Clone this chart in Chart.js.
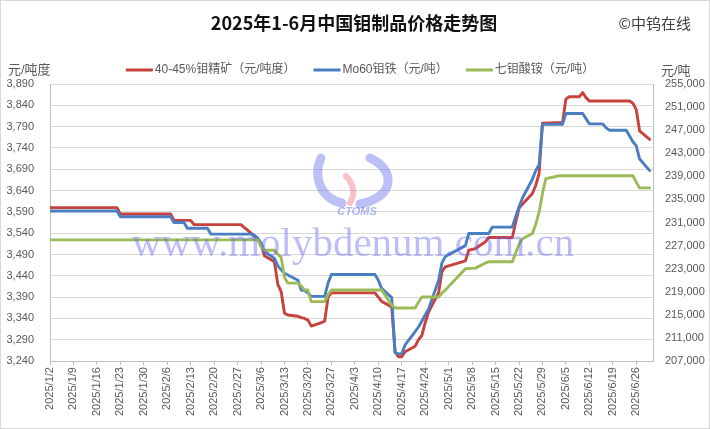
<!DOCTYPE html>
<html>
<head>
<meta charset="utf-8">
<script src="https://cdn.jsdelivr.net/npm/chart.js@4.4.1/dist/chart.umd.min.js"></script>
<style>
  html, body { margin: 0; padding: 0; background: #fff; }
</style>
</head>
<body>
<canvas id="price-chart" width="710" height="429"></canvas>
<script>
// dates are 2025 trading days (M/D)
const redDates = ['1/2','1/22','1/23','2/7','2/8','2/13','2/14','2/28','3/3','3/4','3/5','3/6','3/7','3/10','3/11','3/12','3/13','3/14','3/17','3/18','3/19','3/20','3/21','3/24','3/25','3/26','3/27','4/9','4/10','4/11','4/14','4/15','4/16','4/17','4/18','4/21','4/22','4/23','4/24','4/25','4/28','4/29','4/30','5/6','5/7','5/9','5/12','5/13','5/20','5/21','5/22','5/23','5/26','5/27','5/28','5/29','6/4','6/5','6/6','6/9','6/10','6/11','6/12','6/24','6/25','6/26','6/27','6/30'];
const redValues = [3600,3600,3585,3585,3570,3570,3560,3560,3540,3533,3528,3515,3487,3473,3420,3403,3352,3348,3345,3342,3340,3336,3322,3330,3334,3390,3400,3400,3390,3380,3367,3262,3250,3250,3262,3275,3290,3300,3330,3355,3400,3450,3461,3475,3500,3504,3520,3530,3530,3565,3598,3608,3633,3652,3680,3798,3800,3855,3860,3860,3870,3858,3850,3850,3845,3830,3780,3760];

const blueDates = ['1/2','1/22','1/23','2/7','2/8','2/11','2/12','2/18','2/19','3/3','3/4','3/5','3/6','3/7','3/10','3/11','3/12','3/13','3/14','3/17','3/18','3/19','3/20','3/21','3/25','3/26','3/27','4/9','4/10','4/11','4/14','4/15','4/16','4/17','4/18','4/21','4/22','4/23','4/24','4/25','4/28','4/29','4/30','5/6','5/7','5/13','5/14','5/20','5/21','5/22','5/23','5/26','5/27','5/28','5/29','6/4','6/5','6/10','6/11','6/12','6/16','6/17','6/18','6/23','6/24','6/25','6/26','6/27','6/30'];
const blueValues = [233000,233000,232000,232000,231000,231000,230000,230000,229000,229000,228800,228300,227400,226000,224800,223500,222800,222200,221900,221000,219300,219200,218800,218200,218200,220500,222000,222000,221000,219600,218000,208500,208200,208300,209800,212100,212900,213900,215000,216000,221000,224000,225100,227000,229100,229100,230200,230200,232000,233700,235200,238500,240000,241000,248000,248000,249900,249900,249000,248100,248100,247400,247000,247000,246000,245000,244300,242000,240000];

const greenDates = ['1/2','3/5','3/6','3/7','3/10','3/11','3/12','3/13','3/14','3/17','3/18','3/19','3/20','3/21','3/25','3/26','3/27','4/11','4/14','4/15','4/21','4/22','4/23','4/28','4/29','4/30','5/6','5/9','5/12','5/13','5/20','5/21','5/22','5/23','5/26','5/27','5/28','5/29','5/30','6/3','6/25','6/26','6/27','6/30'];
const greenValues = [228000,228000,226800,226200,226200,225500,225000,221500,220500,220500,220000,219300,219300,217300,217300,218500,219300,219300,216700,216200,216200,217200,218100,218100,218800,219300,223000,223100,224000,224200,224200,225700,227200,228200,229100,230700,232800,236000,238600,239100,239100,238000,237000,237000];

const xTickLabels = ['2025/1/2','2025/1/9','2025/1/16','2025/1/23','2025/1/30','2025/2/6','2025/2/13','2025/2/20','2025/2/27','2025/3/6','2025/3/13','2025/3/20','2025/3/27','2025/4/3','2025/4/10','2025/4/17','2025/4/24','2025/5/1','2025/5/8','2025/5/15','2025/5/22','2025/5/29','2025/6/5','2025/6/12','2025/6/19','2025/6/26'];

const seriesNames = ['40-45%钼精矿（元/吨度）', 'Mo60钼铁（元/吨）', '七钼酸铵（元/吨）'];
const seriesColors = ['#C9413D', '#4A7EC2', '#9BBB59'];

const chartTitle = '2025年1-6月中国钼制品价格走势图';
const copyright = '©中钨在线';
const leftUnit = '元/吨度';
const rightUnit = '元/吨';

const startDay = Date.UTC(2025, 0, 2);
function dayOf(md) {
    const parts = md.split('/').map(Number);
    const m = parts.length === 3 ? parts[1] : parts[0];
    const d = parts.length === 3 ? parts[2] : parts[1];
    return (Date.UTC(2025, m - 1, d) - startDay) / 86400000;
}
function toPoints(dates, values) {
    return dates.map((d, i) => ({x: dayOf(d), y: values[i]}));
}

const tickFont = {family: '"Liberation Sans", "Noto Sans CJK SC"', size: 11};
const cjkFont = '"Liberation Sans", "Noto Sans CJK SC"';

// title, legend, units, watermark, border
const decor = {
    id: 'decor',
    beforeDraw(chart) {
        const ctx = chart.ctx;
        ctx.save();
        ctx.fillStyle = '#ffffff';
        ctx.fillRect(0, 0, chart.width, chart.height);
        ctx.restore();
    },
    afterDatasetsDraw(chart) {
        const ctx = chart.ctx;
        ctx.save();
        // logo swooshes
        ctx.lineCap = 'round';
        ctx.strokeStyle = 'rgba(95,105,235,0.42)';
        ctx.lineWidth = 9;
        ctx.beginPath();
        ctx.moveTo(321, 158);
        ctx.bezierCurveTo(312, 178, 322, 199, 342, 203);
        ctx.stroke();
        ctx.beginPath();
        ctx.moveTo(370, 158);
        ctx.bezierCurveTo(392, 168, 393, 188, 378, 197);
        ctx.bezierCurveTo(372, 201, 366, 203, 360, 204);
        ctx.stroke();
        ctx.strokeStyle = 'rgba(240,110,125,0.42)';
        ctx.lineWidth = 6;
        ctx.beginPath();
        ctx.moveTo(346, 176);
        ctx.quadraticCurveTo(358, 189, 350, 203);
        ctx.stroke();
        ctx.fillStyle = 'rgba(95,105,235,0.5)';
        ctx.font = 'italic bold 11px "Liberation Sans"';
        ctx.textAlign = 'center';
        ctx.textBaseline = 'middle';
        ctx.fillText('CTOMS', 357, 212);
        ctx.fillStyle = 'rgba(95,95,240,0.42)';
        ctx.font = '41px "Liberation Serif"';
        ctx.textBaseline = 'alphabetic';
        ctx.fillText('www.molybdenum.com.cn', 353, 256);
        ctx.restore();
    },
    afterDraw(chart) {
        const ctx = chart.ctx;
        ctx.save();
        ctx.textBaseline = 'middle';
        ctx.fillStyle = '#111111';
        ctx.font = 'bold 18px "Noto Sans CJK SC"';
        ctx.textAlign = 'center';
        ctx.fillText(chartTitle, 354, 23);

        ctx.fillStyle = '#404040';
        ctx.font = '15px "Noto Sans CJK SC"';
        ctx.textAlign = 'right';
        ctx.fillText(copyright, 691, 23);

        ctx.fillStyle = '#595959';
        ctx.font = '13px ' + cjkFont;
        ctx.textAlign = 'left';
        ctx.fillText(leftUnit, 8, 70);
        ctx.fillText(rightUnit, 661, 71);

        // legend
        ctx.font = '12px ' + cjkFont;
        const sample = 27, gap = 2, between = 18;
        const widths = chart.data.datasets.map(ds => ctx.measureText(ds.label).width);
        const total = widths.reduce((a, w) => a + sample + gap + w, 0) + between * (widths.length - 1);
        let x = 360 - total / 2;
        const ly = 70;
        chart.data.datasets.forEach((ds, i) => {
            ctx.strokeStyle = ds.borderColor;
            ctx.lineWidth = 3;
            ctx.lineCap = 'butt';
            ctx.beginPath();
            ctx.moveTo(x, ly);
            ctx.lineTo(x + sample, ly);
            ctx.stroke();
            ctx.fillStyle = '#595959';
            ctx.fillText(ds.label, x + sample + gap, ly);
            x += sample + gap + widths[i] + between;
        });

        ctx.strokeStyle = '#d9d9d9';
        ctx.lineWidth = 1;
        ctx.strokeRect(0.5, 0.5, chart.width - 1, chart.height - 1);
        ctx.restore();
    }
};

const ctx = document.getElementById('price-chart').getContext('2d');
const priceChart = new Chart(ctx, {
    type: 'line',
    data: {
        datasets: [{
            label: seriesNames[0],
            data: toPoints(redDates, redValues),
            borderColor: seriesColors[0],
            backgroundColor: seriesColors[0],
            yAxisID: 'y',
            order: 3
        }, {
            label: seriesNames[1],
            data: toPoints(blueDates, blueValues),
            borderColor: seriesColors[1],
            backgroundColor: seriesColors[1],
            yAxisID: 'y1',
            order: 2
        }, {
            label: seriesNames[2],
            data: toPoints(greenDates, greenValues),
            borderColor: seriesColors[2],
            backgroundColor: seriesColors[2],
            yAxisID: 'y1',
            order: 1
        }]
    },
    options: {
        responsive: false,
        animation: false,
        devicePixelRatio: 1,
        layout: {
            padding: {top: 84, left: 6, right: 5, bottom: 11}
        },
        elements: {
            line: {borderWidth: 2.9, tension: 0, borderJoinStyle: 'round', borderCapStyle: 'round'},
            point: {radius: 0, hoverRadius: 0}
        },
        plugins: {
            legend: {display: false},
            title: {display: false},
            tooltip: {enabled: false}
        },
        scales: {
            x: {
                type: 'linear',
                min: 0,
                max: 180,
                afterBuildTicks: scale => {
                    scale.ticks = xTickLabels.map(l => ({value: dayOf(l)}));
                },
                ticks: {
                    autoSkip: false,
                    minRotation: 90,
                    maxRotation: 90,
                    padding: 2,
                    color: '#595959',
                    font: tickFont,
                    callback: (v, i) => xTickLabels[i]
                },
                grid: {drawOnChartArea: false, drawTicks: true, tickLength: 4, color: '#bfbfbf'},
                border: {color: '#bfbfbf'}
            },
            y: {
                position: 'left',
                min: 3240,
                max: 3890,
                afterFit: scale => { scale.width = 44; },
                ticks: {stepSize: 50, padding: 16, color: '#595959', font: tickFont},
                grid: {color: '#d9d9d9', drawTicks: false},
                border: {color: '#bfbfbf'}
            },
            y1: {
                position: 'right',
                min: 207000,
                max: 255000,
                afterFit: scale => { scale.width = 52; },
                ticks: {stepSize: 4000, padding: 12, color: '#595959', font: tickFont},
                grid: {drawOnChartArea: false, drawTicks: false},
                border: {color: '#bfbfbf'}
            }
        }
    },
    plugins: [decor]
});
</script>
</body>
</html>
